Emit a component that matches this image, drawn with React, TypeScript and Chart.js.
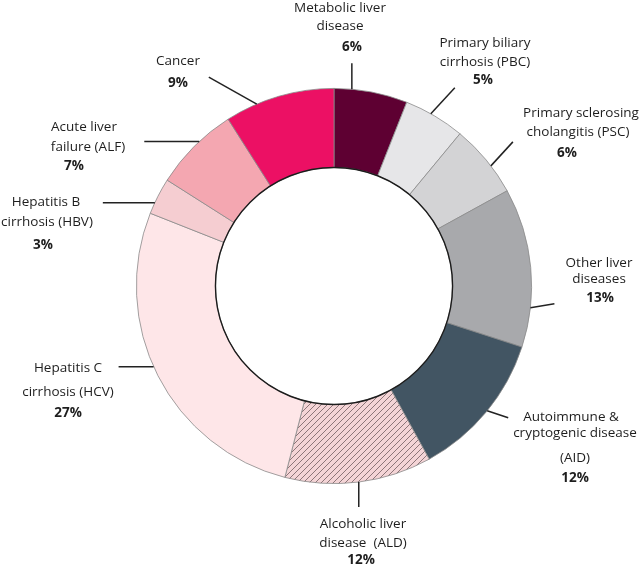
import React, { useEffect, useRef } from "react";
import { Chart, registerables } from "chart.js";

Chart.register(...registerables);

// ---- data ----
const categories = [
  "Metabolic liver disease",
  "Primary biliary cirrhosis (PBC)",
  "Primary sclerosing cholangitis (PSC)",
  "Other liver diseases",
  "Autoimmune & cryptogenic disease (AID)",
  "Alcoholic liver disease (ALD)",
  "Hepatitis C cirrhosis (HCV)",
  "Hepatitis B cirrhosis (HBV)",
  "Acute liver failure (ALF)",
  "Cancer",
];
const shares = [6, 5, 6, 13, 12, 12, 27, 3, 7, 9];
const labelTexts = [
  ["Metabolic liver", "disease"],
  ["Primary biliary", "cirrhosis (PBC)"],
  ["Primary sclerosing", "cholangitis (PSC)"],
  ["Other liver", "diseases"],
  ["Autoimmune &", "cryptogenic disease", "(AID)"],
  ["Alcoholic liver", "disease  (ALD)"],
  ["Hepatitis C", "cirrhosis (HCV)"],
  ["Hepatitis B", "cirrhosis (HBV)"],
  ["Acute liver", "failure (ALF)"],
  ["Cancer"],
];

// ---- styles ----
const colors = [
  "#5e0032",
  "#e6e6e8",
  "#d3d3d5",
  "#a8a9ac",
  "#425563",
  "HATCH",
  "#fee6e8",
  "#f5cdd1",
  "#f4a7b1",
  "#ec1064",
];

// label layout: where along the segment the leader starts (fraction),
// leader vector, and text line positions relative to chart centre
type LinePos = [number, number];
const labelLayout: { frac: number; vec: LinePos; lines: LinePos[] }[] = [
  { frac: 0.24, vec: [0, -26], lines: [[6, -278], [6, -260], [18, -239]] },
  { frac: 0.43, vec: [24, -26], lines: [[151, -243], [151, -224], [149, -206]] },
  { frac: 0.6, vec: [22, -24], lines: [[247, -173], [244, -154], [233, -133]] },
  { frac: 0.75, vec: [24, -4], lines: [[265, -23], [265, -7], [266, 12]] },
  { frac: 0.49, vec: [21, 7], lines: [[237, 131], [241, 147], [241, 172], [241, 192]] },
  { frac: 0.5, vec: [0, 25], lines: [[29, 238], [29, 257], [27, 274]] },
  { frac: 0.53, vec: [-35, 0], lines: [[-266, 82], [-266, 106], [-266, 127]] },
  { frac: 0.31, vec: [-52, 0], lines: [[-288, -84], [-287, -64], [-291, -41]] },
  { frac: 0.58, vec: [-55, 0], lines: [[-250, -159], [-246, -139], [-260, -120]] },
  { frac: 0.29, vec: [-48, -27], lines: [[-156, -225], [-156, -203]] },
];

const FONT = '"Open Sans", "Noto Sans", sans-serif';

function makeHatch(): CanvasPattern | string {
  const s = 6;
  const c = document.createElement("canvas");
  c.width = s;
  c.height = s;
  const g = c.getContext("2d");
  if (!g) return "#f3d3d5";
  g.fillStyle = "#f4d4d6";
  g.fillRect(0, 0, s, s);
  g.strokeStyle = "#6a5558";
  g.lineWidth = 0.75;
  g.beginPath();
  g.moveTo(0, s);
  g.lineTo(s, 0);
  g.moveTo(-1, 1);
  g.lineTo(1, -1);
  g.moveTo(s - 1, s + 1);
  g.lineTo(s + 1, s - 1);
  g.stroke();
  return g.createPattern(c, "repeat") || "#f3d3d5";
}

const labelPlugin = {
  id: "leaderLabels",
  afterDatasetsDraw(chart: any) {
    const ctx = chart.ctx as CanvasRenderingContext2D;
    const meta = chart.getDatasetMeta(0);
    if (!meta.data.length) return;
    const first = meta.data[0];
    const cx = first.x;
    const cy = first.y;
    const inner = first.innerRadius;
    // inner dark edge
    ctx.save();
    ctx.beginPath();
    ctx.arc(cx, cy, inner, 0, Math.PI * 2);
    ctx.strokeStyle = "#1c1c1c";
    ctx.lineWidth = 1.4;
    ctx.stroke();
    ctx.restore();

    meta.data.forEach((arc: any, i: number) => {
      const lay = labelLayout[i];
      const a = arc.startAngle + lay.frac * (arc.endAngle - arc.startAngle);
      const R = arc.outerRadius;
      const sx = cx + R * Math.cos(a);
      const sy = cy + R * Math.sin(a);
      ctx.save();
      ctx.beginPath();
      ctx.moveTo(sx, sy);
      ctx.lineTo(sx + lay.vec[0], sy + lay.vec[1]);
      ctx.strokeStyle = "#222";
      ctx.lineWidth = 1.5;
      ctx.stroke();

      const texts = [...labelTexts[i], shares[i] + "%"];
      ctx.fillStyle = "#1e1e1e";
      ctx.textAlign = "center";
      ctx.textBaseline = "middle";
      texts.forEach((t, k) => {
        const p = lay.lines[k];
        const bold = k === texts.length - 1;
        ctx.font = `${bold ? "bold " : ""}13.5px ${FONT}`;
        ctx.fillText(t, cx + p[0], cy + p[1]);
      });
      ctx.restore();
    });
  },
};

export default function App() {
  const ref = useRef<HTMLCanvasElement | null>(null);

  useEffect(() => {
    document.body.style.margin = "0";
    const canvas = ref.current;
    if (!canvas) return;
    const hatch = makeHatch();
    const bg = colors.map((c) => (c === "HATCH" ? hatch : c));
    const chart = new Chart(canvas, {
      type: "doughnut",
      data: {
        labels: categories,
        datasets: [
          {
            data: shares,
            backgroundColor: bg as any,
            borderColor: "#8a8a8a",
            borderWidth: 0.8,
            hoverOffset: 0,
            offset: 0,
          },
        ],
      },
      options: {
        animation: false,
        responsive: false,
        maintainAspectRatio: false,
        devicePixelRatio: 1,
        cutout: "60%",
        layout: { padding: { left: 136, right: 108, top: 88, bottom: 83 } },
        plugins: {
          legend: { display: false },
          tooltip: { enabled: false },
        },
        events: [],
      },
      plugins: [labelPlugin],
    });
    return () => chart.destroy();
  }, []);

  return (
    <div style={{ width: 640, height: 567, background: "#fff" }}>
      <canvas ref={ref} width={640} height={567} />
    </div>
  );
}
